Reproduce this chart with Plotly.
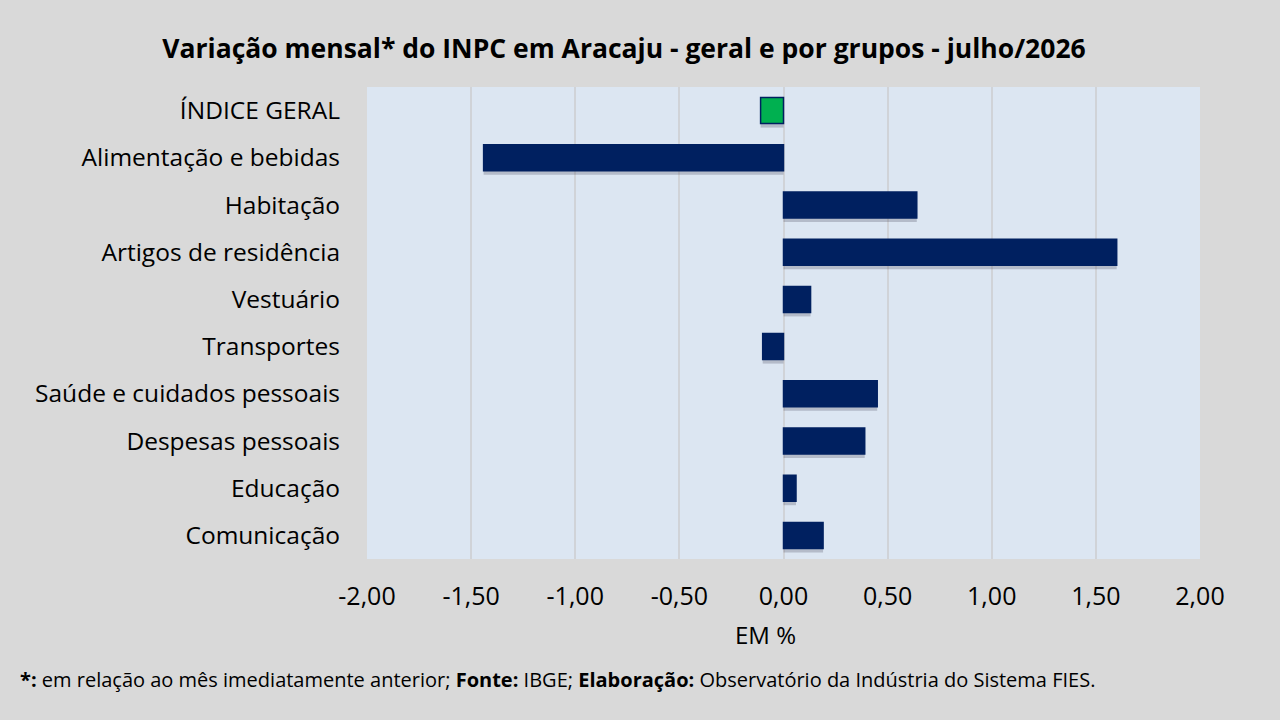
import plotly.graph_objects as go

categories = ["ÍNDICE GERAL", "Alimentação e bebidas", "Habitação", "Artigos de residência",
              "Vestuário", "Transportes", "Saúde e cuidados pessoais", "Despesas pessoais",
              "Educação", "Comunicação"]
values = [-0.11, -1.44, 0.64, 1.60, 0.13, -0.10, 0.45, 0.39, 0.06, 0.19]
tick_vals = [-2.0, -1.5, -1.0, -0.5, 0.0, 0.5, 1.0, 1.5, 2.0]
tick_text = ["-2,00", "-1,50", "-1,00", "-0,50", "0,00", "0,50", "1,00", "1,50", "2,00"]

navy = "#002060"
green = "#00B050"
colors = [green if c == "ÍNDICE GERAL" else navy for c in categories]

FONT = "Open Sans"

fig = go.Figure()
# soft shadow under each bar
fig.add_trace(go.Bar(
    y=categories, x=values, orientation="h",
    marker=dict(color="rgba(60,60,80,0.25)", line=dict(width=0)),
    width=0.56, offset=-0.2, hoverinfo="skip", showlegend=False,
))
fig.add_trace(go.Bar(
    y=categories, x=values, orientation="h",
    marker=dict(color=colors, line=dict(color=navy, width=1.5)),
    width=0.55, offset=-0.275, showlegend=False,
))

fig.update_layout(
    width=1280, height=720,
    paper_bgcolor="#D9D9D9", plot_bgcolor="#DCE6F2",
    margin=dict(l=367, r=80, t=87, b=161),
    barmode="overlay",
    font=dict(family=FONT, color="#000000"),
    title=dict(text="<b>Variação mensal* do INPC em Aracaju - geral e por grupos - julho/2026</b>",
               x=0.4875, xanchor="center", y=0.933, yanchor="middle",
               font=dict(size=26.5, family=FONT, color="#000000")),
    xaxis=dict(range=[-2, 2], tickvals=tick_vals, ticktext=tick_text,
               showgrid=True, gridcolor="#D0D3D8", gridwidth=2, zeroline=True,
               zerolinecolor="#D0D3D8", zerolinewidth=2,
               tickfont=dict(size=25, family=FONT), ticks="", showline=False,
               ticklabelstandoff=20),
    yaxis=dict(autorange="reversed", tickfont=dict(size=24.5, family=FONT),
               ticks="", showgrid=False, ticklabelstandoff=26),
    annotations=[
        dict(text="EM %", xref="paper", yref="paper", x=(765 - 367) / 833, y=(559 - 634) / 472,
             xanchor="center", yanchor="middle", showarrow=False,
             font=dict(size=24, family=FONT, color="#000000")),
        dict(
        text="<b>*:</b> em relação ao mês imediatamente anterior; <b>Fonte:</b> IBGE; "
             "<b>Elaboração:</b> Observatório da Indústria do Sistema FIES.",
        xref="paper", yref="paper", x=(18 - 367) / 833, y=(559 - 680) / 472, xanchor="left", yanchor="middle",
        showarrow=False, font=dict(size=20, family=FONT, color="#000000"))],
)

fig.write_html("out.html", config={"displayModeBar": False},
               post_script="document.body.style.margin='0';document.body.style.background='#D9D9D9';")
